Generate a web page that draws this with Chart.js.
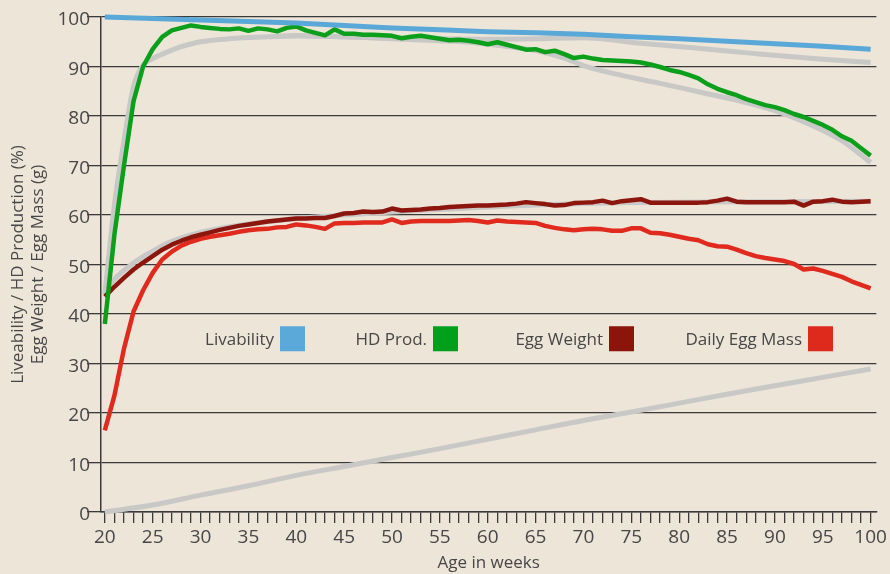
<!DOCTYPE html>
<html>
<head>
<meta charset="utf-8">
<script src="https://cdn.jsdelivr.net/npm/chart.js@4.4.1/dist/chart.umd.min.js"></script>
<style>
  html, body { margin: 0; padding: 0; background: #ece5d8; }
  canvas { display: block; }
</style>
</head>
<body>
<canvas id="chart" width="890" height="574"></canvas>
<script>
// Age of the flock, in weeks
const weeks = [20,21,22,23,24,25,26,27,28,29,30,31,32,33,34,35,36,37,38,39,40,
  41,42,43,44,45,46,47,48,49,50,51,52,53,54,55,56,57,58,59,60,
  61,62,63,64,65,66,67,68,69,70,71,72,73,74,75,76,77,78,79,80,
  81,82,83,84,85,86,87,88,89,90,91,92,93,94,95,96,97,98,99,100];

// Hen-day production (%), weekly
const hdProd = [38,56,70,83,90,93.5,96,97.3,97.8,98.3,
  98.0,97.8,97.6,97.5,97.7,97.2,97.7,97.5,97.1,97.8,
  98.1,97.3,96.8,96.3,97.5,96.6,96.6,96.4,96.4,96.3,
  96.2,95.7,96.0,96.2,95.9,95.6,95.3,95.4,95.2,94.9,
  94.5,94.9,94.4,93.9,93.4,93.5,92.9,93.2,92.5,91.7,
  92.0,91.6,91.3,91.2,91.1,91.0,90.8,90.4,89.9,89.3,
  88.9,88.3,87.6,86.4,85.5,84.8,84.2,83.4,82.8,82.2,
  81.8,81.2,80.4,79.8,79.0,78.2,77.2,75.9,75.0,73.5,
  72.0];

// Egg weight (g), weekly
const eggWeight = [43.5,45.5,47.3,49.0,50.4,51.7,53.0,54.0,54.8,55.5,
  56.0,56.5,57.0,57.4,57.8,58.1,58.4,58.7,58.9,59.1,
  59.3,59.3,59.4,59.4,59.8,60.3,60.4,60.7,60.6,60.7,
  61.3,60.9,61.0,61.1,61.3,61.4,61.6,61.7,61.8,61.9,
  61.9,62.0,62.1,62.3,62.6,62.4,62.2,61.9,62.0,62.4,
  62.5,62.6,62.9,62.4,62.8,63.0,63.2,62.5,62.5,62.5,
  62.5,62.5,62.5,62.6,62.9,63.3,62.7,62.6,62.6,62.6,
  62.6,62.6,62.7,61.9,62.7,62.8,63.1,62.7,62.6,62.7,
  62.8];

// Daily egg mass (g), weekly
const eggMass = [16.5,23.5,33.0,40.5,44.8,48.3,51.0,52.6,53.8,54.6,
  55.2,55.6,55.9,56.2,56.6,56.9,57.1,57.2,57.5,57.6,
  58.1,57.9,57.6,57.2,58.3,58.4,58.4,58.5,58.5,58.5,
  59.1,58.4,58.7,58.8,58.8,58.8,58.8,58.9,59.0,58.8,
  58.5,58.9,58.7,58.6,58.5,58.4,57.8,57.4,57.1,56.9,
  57.1,57.2,57.1,56.8,56.8,57.3,57.3,56.4,56.3,56.0,
  55.6,55.2,54.9,54.1,53.7,53.6,53.0,52.3,51.7,51.3,
  51.0,50.7,50.1,49.0,49.2,48.7,48.1,47.5,46.6,45.9,
  45.2];

// Livability (%)
const livWeeks = [20,25,30,35,40,45,50,55,60,65,70,75,80,85,90,95,100];
const livability = [100,99.7,99.4,99.1,98.8,98.3,97.8,97.4,97.0,96.8,96.5,96.0,95.6,95.1,94.6,94.1,93.5];

// Breed standards (grey curves)
const livStdWeeks = [38,40,45,50,55,60,65,70,76,82,88,94,100];
const livStd = [96.1,96.2,96.0,95.7,95.6,95.5,95.6,95.8,94.7,93.7,92.6,91.6,90.8];

const hdStdWeeks = [20,21,22,23,24,25,26,27,28,30,33,37,40,45,50,55,58,61,65,68,70,74,78,82,86,90,94,97,100];
const hdStd = [44,62,75,86,90.3,91.6,92.5,93.3,94,95,95.6,96,96.2,96.0,95.6,95.2,94.9,94.3,93.2,91.7,90.2,88.2,86.6,84.9,83.2,81.1,78,75,70.6];

const ewStdWeeks = [20,21,22,23,24,25,26,27,28,30,32,35,40,45,50,55,60,65,70,75,80,90,100];
const ewStd = [44.3,47.0,48.8,50.3,51.6,52.7,53.8,54.7,55.4,56.5,57.3,58.2,59.3,60.0,60.6,61.1,61.6,62.0,62.3,62.5,62.6,62.7,62.8];

const cumWeeks = [20,25,30,35,40,45,50,55,60,65,70,75,80,85,90,95,100];
const cumStd = [0,1.4,3.4,5.3,7.4,9.2,11.0,12.8,14.7,16.6,18.5,20.2,22.0,23.8,25.5,27.2,28.9];

// Axis text
const yTitle = ['Liveability / HD Production (%)', 'Egg Weight / Egg Mass (g)'];
const xTitle = 'Age in weeks';
const legendLabels = ['Livability', 'HD Prod.', 'Egg Weight', 'Daily Egg Mass'];

const pts = (xs, ys) => xs.map((x, i) => ({ x: x, y: ys[i] }));

const FONT = '"Open Sans", "Noto Sans", sans-serif';
const TEXT = '#474747';
const GRID = '#3a3a3a';
const GREY = '#c8c8c6';

const colored = (label, data, color, w) => ({
  label, data, borderColor: color, backgroundColor: color,
  borderWidth: w, pointRadius: 0, tension: 0, fill: false,
  borderJoinStyle: 'round', borderCapStyle: 'butt', clip: false, inLegend: true
});
const grey = (data, smooth) => ({
  label: '', data, borderColor: GREY, backgroundColor: GREY,
  borderWidth: 5, pointRadius: 0, tension: smooth ? 0.4 : 0,
  cubicInterpolationMode: 'monotone', fill: false,
  borderJoinStyle: 'round', clip: false, inLegend: false
});

const paper = {
  id: 'paper',
  beforeDraw(chart) {
    const ctx = chart.ctx;
    ctx.save();
    ctx.fillStyle = '#ece5d8';
    ctx.fillRect(0, 0, chart.width, chart.height);
    ctx.restore();
  }
};

// Legend drawn inside the plot: label text followed by a colour square
const inlineLegend = {
  id: 'inlineLegend',
  afterDraw(chart) {
    const ctx = chart.ctx;
    const boxLeft = [280, 433, 609, 808];
    const size = 25;
    const yMid = chart.scales.y.getPixelForValue(35);
    const items = chart.data.datasets.filter(d => d.inLegend);
    ctx.save();
    ctx.font = '17px ' + FONT;
    ctx.textAlign = 'right';
    ctx.textBaseline = 'middle';
    items.forEach((d, i) => {
      ctx.fillStyle = d.legendColor || d.borderColor;
      ctx.fillRect(boxLeft[i], yMid - size / 2, size, size);
      ctx.fillStyle = TEXT;
      ctx.fillText(d.label, boxLeft[i] - 6, yMid + 1);
    });
    ctx.restore();
  }
};

const datasets = [
  Object.assign(colored(legendLabels[0], pts(livWeeks, livability), '#5aa8d7', 5), { legendColor: '#5aa9d8' }),
  Object.assign(colored(legendLabels[1], pts(weeks, hdProd), '#0b9f1c', 4.5), { legendColor: '#00a01a' }),
  Object.assign(colored(legendLabels[2], pts(weeks, eggWeight), '#8c160d', 4.5), { legendColor: '#8c150b' }),
  Object.assign(colored(legendLabels[3], pts(weeks, eggMass), '#e02a1e', 4.5), { legendColor: '#dd2a1d' }),
  grey(pts(livStdWeeks, livStd), false),
  grey(pts(hdStdWeeks, hdStd), true),
  grey(pts(ewStdWeeks, ewStd), true),
  grey(pts(cumWeeks, cumStd), true)
];

new Chart(document.getElementById('chart'), {
  type: 'line',
  data: { datasets },
  options: {
    responsive: false,
    devicePixelRatio: 1,
    animation: false,
    events: [],
    layout: { padding: { top: 17, right: 10, left: 0, bottom: 0 } },
    plugins: { legend: { display: false }, tooltip: { enabled: false } },
    scales: {
      x: {
        type: 'linear',
        min: 19.6,
        max: 100.6,
        afterBuildTicks(scale) { scale.ticks = weeks.map(v => ({ value: v })); },
        afterFit(scale) { scale.height = 62; },
        border: { display: true, color: GRID, width: 1.5 },
        grid: { drawOnChartArea: false, drawTicks: true, tickLength: 11, color: GRID, lineWidth: 1.3 },
        ticks: {
          autoSkip: false, maxRotation: 0, padding: 3,
          color: TEXT, font: { family: FONT, size: 19 },
          callback: v => (v % 5 === 0 ? String(v) : '')
        },
        title: {
          display: true, text: xTitle, color: TEXT,
          font: { family: FONT, size: 17 }, padding: { top: 0, bottom: 1 }
        }
      },
      y: {
        min: 0,
        max: 100,
        afterFit(scale) { scale.width = 101; },
        border: { display: true, color: GRID, width: 1.5 },
        grid: { drawOnChartArea: true, drawTicks: true, tickLength: 14, color: GRID, lineWidth: 1.3 },
        ticks: {
          stepSize: 10, padding: -3, labelOffset: 3,
          color: TEXT, font: { family: FONT, size: 19 }
        },
        title: {
          display: true, text: yTitle, color: TEXT,
          font: { family: FONT, size: 17 }, padding: { top: 8, bottom: 0 }
        }
      }
    }
  },
  plugins: [paper, inlineLegend]
});
</script>
</body>
</html>
